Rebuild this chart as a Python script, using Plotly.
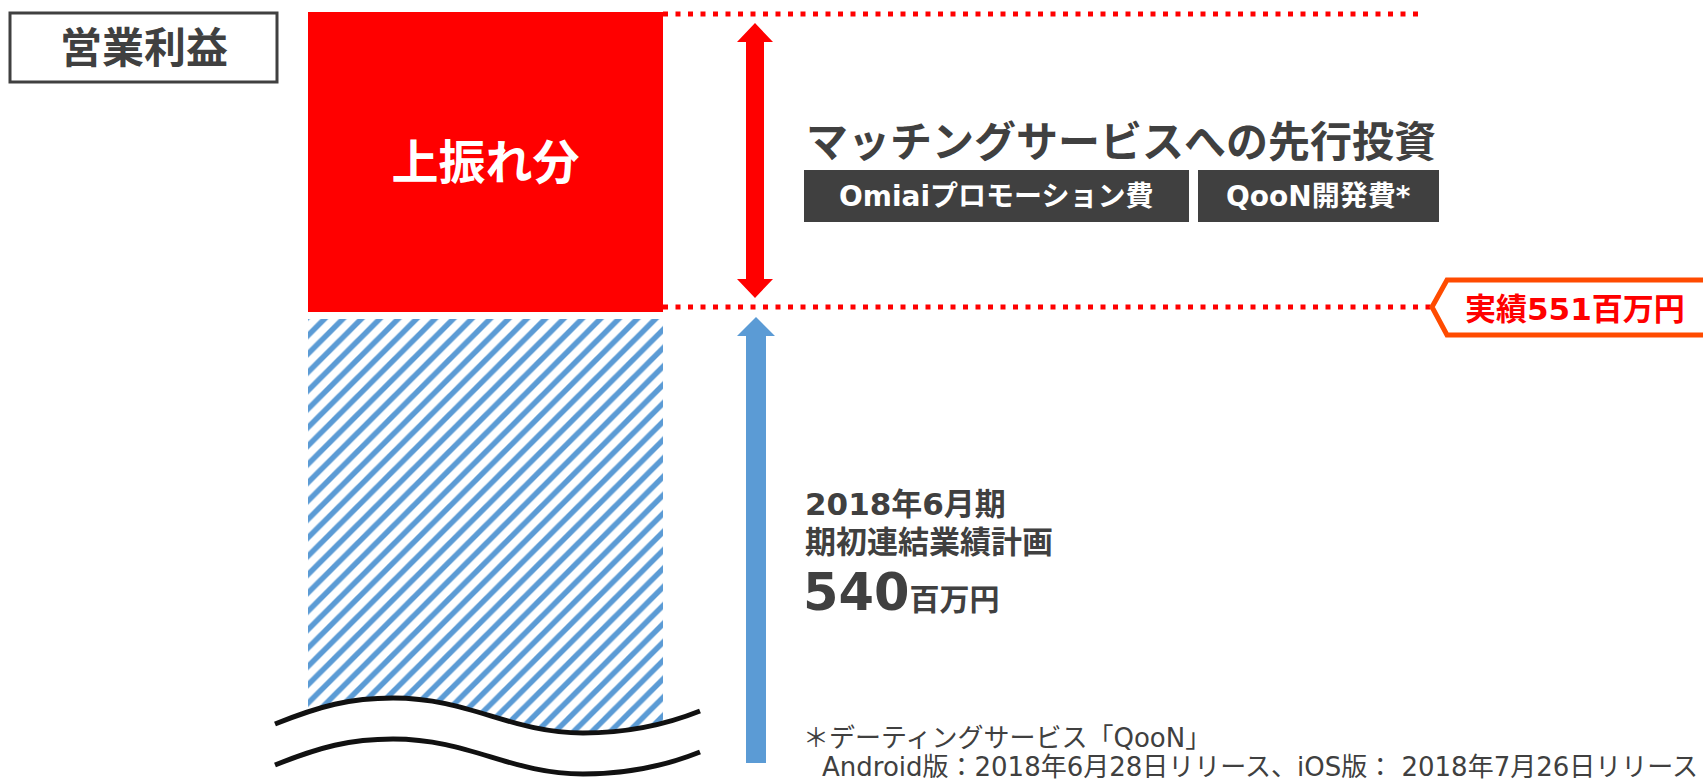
import plotly.graph_objects as go

# ---------------- data ----------------
category = ["営業利益"]
plan_value = 540          # 期初連結業績計画 (百万円)
actual_value = 551        # 実績 (百万円)
plan_period = "2018年6月期"
# schematic bar levels (display units, broken axis)
plan_base = [44]
plan_height = [416]
upside_base = [467]
upside_height = [300]
upside_label = ["上振れ分"]
investment_title = "マッチングサービスへの先行投資"
investment_items = ["Omiaiプロモーション費", "QooN開発費*"]
footnote_lines = ["＊デーティングサービス「QooN」",
                  "Android版：2018年6月28日リリース、iOS版： 2018年7月26日リリース"]

W, H = 1703, 779
FONT = "DejaVu Sans, Noto Sans CJK JP"
DARK = "#404040"
RED = "#FF0000"
BLUE = "#5B9BD5"


def Y(py):
    return H - py


bar_x = 485.5
bar_w = 355

fig = go.Figure()
fig.add_trace(go.Bar(
    x=[bar_x], y=plan_height, base=plan_base, width=[bar_w],
    marker=dict(color="white", line=dict(width=0),
                pattern=dict(shape="/", fgcolor=BLUE, bgcolor="white",
                             size=13, solidity=0.42, fillmode="replace")),
    hoverinfo="skip", showlegend=False))
fig.add_trace(go.Bar(
    x=[bar_x], y=upside_height, base=upside_base, width=[bar_w],
    marker=dict(color=RED, line=dict(width=0)),
    text=upside_label, textposition="inside", insidetextanchor="middle",
    textangle=0,
    textfont=dict(family=FONT, size=47, color="white", weight="bold"),
    hoverinfo="skip", showlegend=False))

shapes = []
annos = []

# title box
shapes.append(dict(type="rect", x0=10, x1=277, y0=Y(13), y1=Y(82),
                   line=dict(color=DARK, width=3), fillcolor="white"))
annos.append(dict(x=143.5, y=Y(48), text=category[0], showarrow=False,
                  font=dict(family=FONT, size=42, color=DARK, weight="bold"),
                  xanchor="center", yanchor="middle"))

# dotted lines
dash = "5px,7.5px"
shapes.append(dict(type="line", x0=663, x1=1425, y0=Y(14), y1=Y(14),
                   line=dict(color=RED, width=5, dash=dash)))
shapes.append(dict(type="line", x0=663, x1=1432, y0=Y(307), y1=Y(307),
                   line=dict(color=RED, width=5, dash=dash)))


def poly(pts):
    return "M " + " L ".join(f"{x},{Y(y)}" for x, y in pts) + " Z"


# red double arrow
cx = 755
red_arrow = [(cx, 23), (cx + 18, 42), (cx + 9, 42), (cx + 9, 279), (cx + 18, 279),
             (cx, 298), (cx - 18, 279), (cx - 9, 279), (cx - 9, 42), (cx - 18, 42)]
shapes.append(dict(type="path", path=poly(red_arrow), fillcolor=RED,
                   line=dict(width=0)))
# blue arrow
bx = 756
blue_arrow = [(bx, 317), (bx + 19, 336), (bx + 10, 336), (bx + 10, 763),
              (bx - 10, 763), (bx - 10, 336), (bx - 19, 336)]
shapes.append(dict(type="path", path=poly(blue_arrow), fillcolor=BLUE,
                   line=dict(width=0)))

# wave (axis break)
def wave(dy):
    return (f"M 275,{Y(724+dy)} C 320,{Y(706+dy)} 350,{Y(698+dy)} 393,{Y(698+dy)} "
            f"C 470,{Y(698+dy)} 510,{Y(733+dy)} 583,{Y(733+dy)} "
            f"C 630,{Y(733+dy)} 670,{Y(723+dy)} 700,{Y(711+dy)}")

shapes.append(dict(type="path",
                   path=wave(0) + f" L 700,{Y(779)} L 275,{Y(779)} Z",
                   fillcolor="white", line=dict(width=0)))
shapes.append(dict(type="path", path=wave(0), line=dict(color="#111111", width=5)))
shapes.append(dict(type="path", path=wave(41), line=dict(color="#111111", width=5)))

# investment title and boxes
annos.append(dict(x=804, y=Y(142), text=investment_title, showarrow=False,
                  font=dict(family=FONT, size=42, color=DARK, weight="bold"),
                  xanchor="left", yanchor="middle"))
box_spans = [(804, 1189), (1198, 1439)]
for (x0, x1), label in zip(box_spans, investment_items):
    shapes.append(dict(type="rect", x0=x0, x1=x1, y0=Y(170), y1=Y(222),
                       fillcolor=DARK, line=dict(width=0)))
    annos.append(dict(x=(x0 + x1) / 2, y=Y(196), text=label, showarrow=False,
                      font=dict(family=FONT, size=28, color="white", weight="bold"),
                      xanchor="center", yanchor="middle"))

# actual label box
shapes.append(dict(type="path",
                   path=poly([(1432, 307), (1447, 280), (1712, 280), (1712, 335), (1447, 335)]),
                   fillcolor="white", line=dict(color="#FF4B00", width=5)))
annos.append(dict(x=1575, y=Y(309), text=f"実績{actual_value}百万円", showarrow=False,
                  font=dict(family=FONT, size=31, color=RED, weight="bold"),
                  xanchor="center", yanchor="middle"))

# plan text
annos.append(dict(x=803, y=Y(504), text=plan_period, showarrow=False,
                  font=dict(family=FONT, size=31, color=DARK, weight="bold"),
                  xanchor="left", yanchor="middle"))
annos.append(dict(x=803, y=Y(542), text="期初連結業績計画", showarrow=False,
                  font=dict(family=FONT, size=31, color=DARK, weight="bold"),
                  xanchor="left", yanchor="middle"))
annos.append(dict(x=801, y=Y(592),
                  text=f"{plan_value}<span style='font-size:30px'>百万円</span>",
                  showarrow=False,
                  font=dict(family=FONT, size=51, color=DARK, weight="bold"),
                  xanchor="left", yanchor="middle"))

# footnote
annos.append(dict(x=801, y=Y(738), text=footnote_lines[0], showarrow=False,
                  font=dict(family=FONT, size=26, color=DARK),
                  xanchor="left", yanchor="middle"))
annos.append(dict(x=820, y=Y(767), text=footnote_lines[1], showarrow=False,
                  font=dict(family=FONT, size=26, color=DARK),
                  xanchor="left", yanchor="middle"))

fig.update_layout(
    width=W, height=H, autosize=False,
    margin=dict(l=0, r=0, t=0, b=0),
    paper_bgcolor="white", plot_bgcolor="white",
    barmode="overlay", bargap=0,
    xaxis=dict(range=[0, W], visible=False, fixedrange=True),
    yaxis=dict(range=[0, H], visible=False, fixedrange=True),
    shapes=shapes, annotations=annos,
    font=dict(family=FONT),
)

fig.write_html("out.html", config={"displayModeBar": False},
               post_script="document.body.style.margin='0';"
                           "document.body.style.overflow='hidden';")
